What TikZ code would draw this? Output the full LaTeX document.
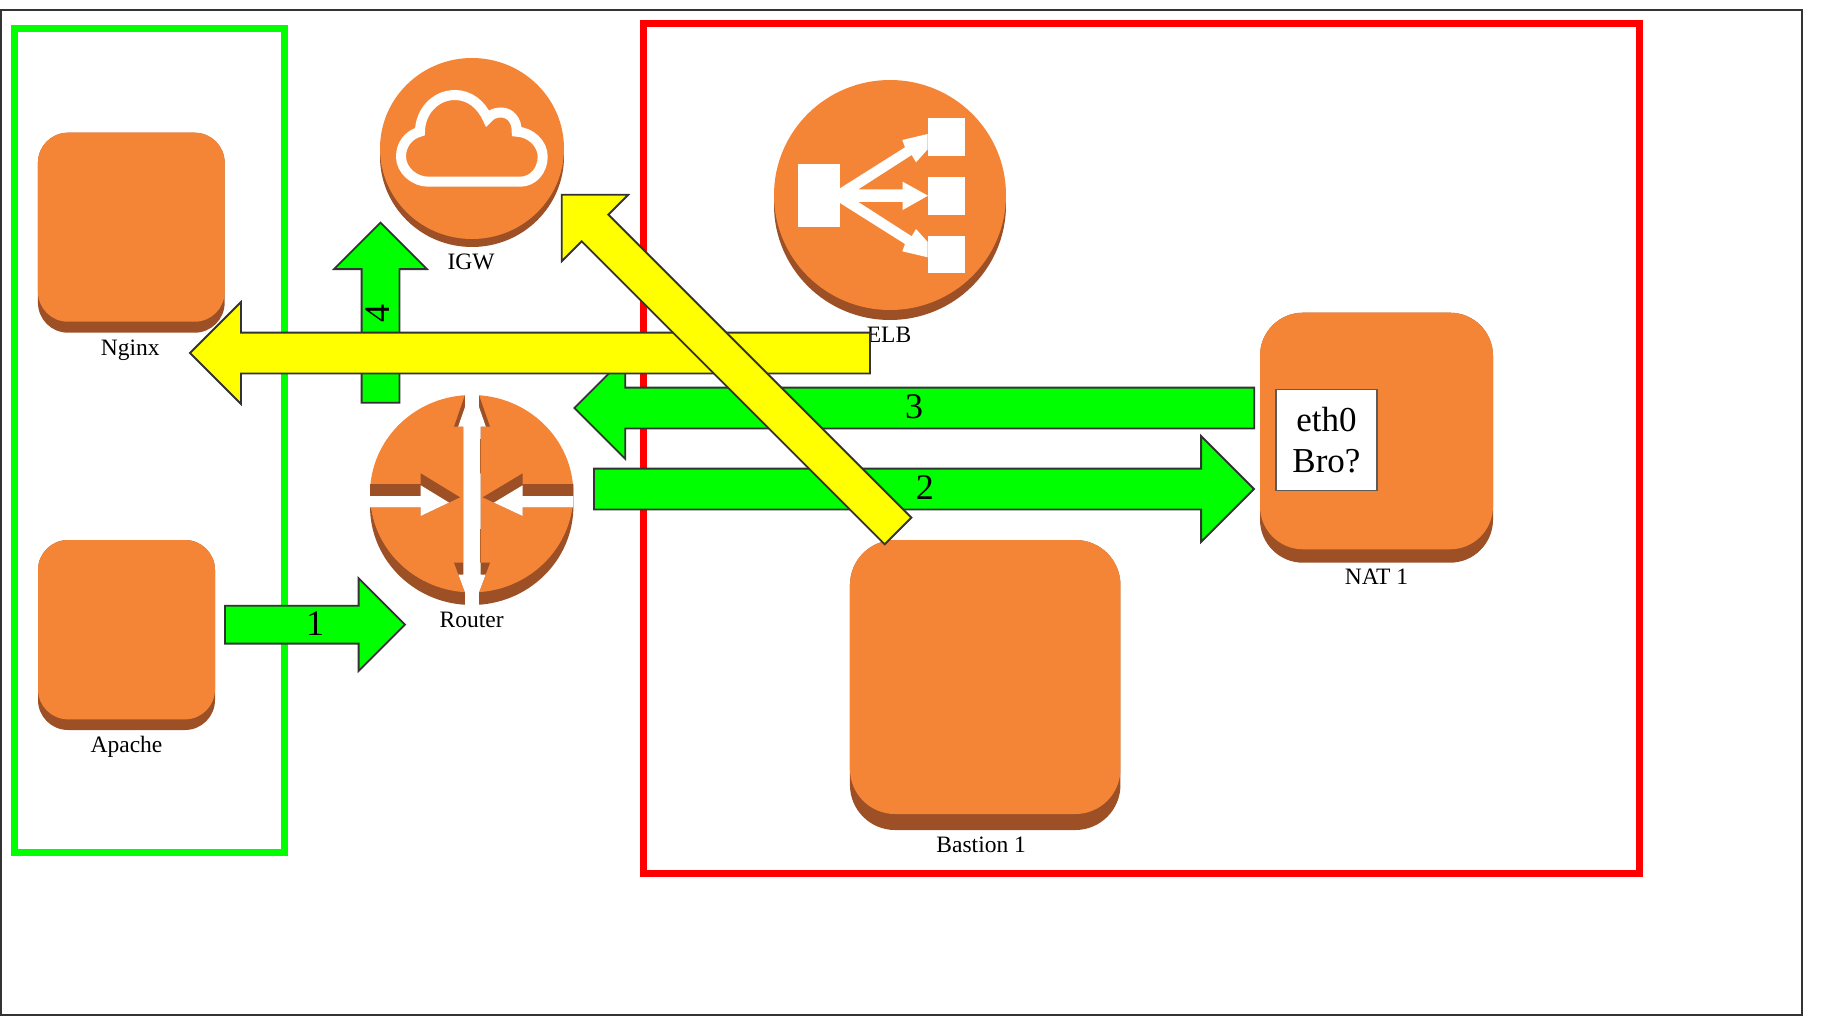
\documentclass[tikz,border=0pt]{standalone}
\usepackage{fontspec}
\setmainfont{Liberation Serif}
\usetikzlibrary{positioning,shapes.geometric,shapes.arrows}
\definecolor{awsorange}{HTML}{F58536}
\definecolor{awsbrown}{HTML}{9D5025}
\definecolor{edgegray}{HTML}{333333}
\definecolor{okgreen}{HTML}{00FF00}
\definecolor{badred}{HTML}{FF0000}
\definecolor{flowyellow}{HTML}{FFFF00}
\newcommand{\routercuts}{
  (465,395) -- (454,426.7) -- (463.3,426.7) -- (463.3,562.7) -- (454,562.7)
  -- (465,592.3) -- (479,592.3) -- (490,562.7) -- (480.7,562.7) -- (480.7,426.7)
  -- (490,426.7) -- (479,395) -- cycle
  (370,484) -- (420.7,484) -- (420.7,473.3) -- (460,497.3) -- (420.7,516)
  -- (420.7,507.3) -- (370,507.3) -- cycle
  (573.3,484) -- (522.7,484) -- (522.7,473.3) -- (482.7,497.3) -- (522.7,516)
  -- (522.7,507.3) -- (573.3,507.3) -- cycle
}

\begin{document}
\begin{tikzpicture}[
          x=1pt,y=-1pt,
          zone/.style={
            draw,
            line width=7pt,
            inner sep=0pt,
            outer sep=0pt,
          },
          awsface/.style={
            fill=awsorange,
            inner sep=0pt,
            outer sep=0pt,
          },
          awsbase/.style={
            awsface,
            fill=awsbrown,
          },
          iconlabel/.style={
            inner sep=0pt,
            outer sep=0pt,
            text height=16pt,
            text depth=5pt,
            font=\fontsize{23.5}{26}\selectfont,
          },
          blockarrow/.style={
            single arrow,
            anchor=tail,
            draw=edgegray,
            line width=1.8pt,
            inner sep=0pt,
            outer sep=0pt,
            single arrow tip angle=90,
            single arrow head indent=0pt,
            font=\fontsize{36}{36}\selectfont,
          },
          thinshaft/.style={
            text height=29pt,
            text depth=7pt,
          },
          wideshaft/.style={
            text height=29.5pt,
            text depth=9.5pt,
          },
        ]
          \useasboundingbox (0,0) rectangle (1821,1035);

          % frames
          \node[draw=edgegray,line width=1.5pt,inner sep=0pt,outer sep=0pt,
            minimum width=1801pt,minimum height=1005pt] (frame) at (901.5,512.5) {};
          \node[zone,draw=okgreen,minimum width=270.4pt,minimum height=824.5pt] (public) at (149.5,440.7) {};
          \node[zone,draw=badred,minimum width=996.5pt,minimum height=850pt] (private) at (1141.7,448.5) {};

          % instances
          \node[awsbase,rounded corners=30pt,minimum width=186.7pt,minimum height=200pt] (nginxbase) at (131.3,232.7) {};
          \node[awsface,rounded corners=30pt,minimum width=186.7pt,minimum height=189pt] (nginx) at (131.3,227.2) {};
          \node[iconlabel,below=6.5pt of nginxbase,xshift=-1pt] (nginxlabel) {Nginx};

          \node[awsbase,rounded corners=30pt,minimum width=177pt,minimum height=190pt] (apachebase) at (126.5,635) {};
          \node[awsface,rounded corners=30pt,minimum width=177pt,minimum height=179.3pt] (apache) at (126.5,629.7) {};
          \node[iconlabel,below=6pt of apachebase] (apachelabel) {Apache};

          \node[awsbase,rounded corners=45pt,minimum width=270.5pt,minimum height=290pt] (bastionbase) at (985.2,685) {};
          \node[awsface,rounded corners=45pt,minimum width=270.5pt,minimum height=274pt] (bastion) at (985.2,677) {};
          \node[iconlabel,below=6pt of bastionbase,xshift=-4pt] (bastionlabel) {Bastion 1};

          \node[awsbase,rounded corners=43pt,minimum width=233pt,minimum height=250pt] (natbase) at (1376.5,437.7) {};
          \node[awsface,rounded corners=43pt,minimum width=233pt,minimum height=236.6pt] (nat) at (1376.5,431) {};
          \node[iconlabel,below=6pt of natbase] (natlabel) {NAT 1};
          \node[draw=edgegray!80,line width=1.7pt,fill=white,inner sep=0pt,outer sep=0pt,
            minimum width=101pt,minimum height=101pt,align=center,
            font=\fontsize{35}{40.5}\selectfont] (eth) at (1326.5,440) {eth0\\Bro?};

          % igw
          \node[awsbase,ellipse,minimum width=184pt,minimum height=181pt] (igwbase) at (472,156.5) {};
          \node[awsface,ellipse,minimum width=184pt,minimum height=181pt] (igw) at (472,148.5) {};
          \node[iconlabel,below=6.5pt of igwbase,xshift=-1pt] (igwlabel) {IGW};
          \draw[white,line width=10pt,line join=miter]
            (428.3,181.7) -- (520,181.7)
            .. controls (533.5,181.7) and (542.7,170) .. (542.7,156.7)
            .. controls (542.7,143) and (530,132) .. (516.7,131.7)
            .. controls (517,120) and (510,112.5) .. (501,112.5)
            .. controls (496,112.5) and (491,114) .. (487.5,118.5)
            .. controls (481,104) and (469,95) .. (455,95)
            .. controls (435,95) and (420,112) .. (420,131.7)
            .. controls (408,135) and (401,145) .. (401,156.7)
            .. controls (401,170) and (414,181.7) .. (428.3,181.7) -- cycle;

          % elb
          \node[awsbase,ellipse,minimum width=232pt,minimum height=230pt] (elbbase) at (890,205) {};
          \node[awsface,ellipse,minimum width=232pt,minimum height=230pt] (elb) at (890,195) {};
          \node[iconlabel,below=6pt of elbbase,xshift=-1pt] (elblabel) {ELB};
          \fill[white] (797.7,164.3) rectangle (840,226.7);
          \foreach \top/\bottom in {118.3/156,177.3/214.7,236/273.3}
            \fill[white] (927.7,\top) rectangle (965.3,\bottom);
          \fill[white] (840,188.3) -- (905,147.3) -- (902.3,140) -- (927.7,134) -- (927.7,149.3) -- (916,162.3)
            -- (911.7,155) -- (858.3,189.3) -- (902.7,189.3) -- (902.7,181.7) -- (928,195.7)
            -- (902.7,210) -- (902.7,202) -- (858.3,202) -- (911.7,236.3) -- (916,229)
            -- (927.7,242) -- (927.7,257.3) -- (902.3,251.3) -- (905,244) -- (840,203) -- cycle;

          % router
          \node[awsbase,ellipse,minimum width=203.4pt,minimum height=197.4pt] (routerbase) at (471.7,506.3) {};
          \node[awsface,ellipse,minimum width=203.4pt,minimum height=197.4pt] (router) at (471.7,493.7) {};
          \node[iconlabel,below=6.5pt of routerbase] (routerlabel) {Router};
          \begin{scope}
            \clip \routercuts;
            \fill[awsbrown] (369,394) rectangle (575,594);
            \fill[white,shift={(0,12)}] \routercuts;
            \fill[white] (465,394) rectangle (479,408);
          \end{scope}
          \fill[white] (465,592) rectangle (479,606);

          % green arrows
          \node[blockarrow,thinshaft,fill=okgreen,minimum height=180pt,single arrow head extend=27.5pt] (step1) at (225,624.7) {\hspace*{19pt}1};
          \node[blockarrow,wideshaft,fill=okgreen,minimum height=660pt,single arrow head extend=32.5pt] (step2) at (594,489) {\hspace*{22pt}2};
          \node[blockarrow,wideshaft,fill=okgreen,minimum height=680pt,single arrow head extend=30.5pt,shape border rotate=180] (step3) at (1254.3,408) {3\hspace*{21pt}};
          \node[blockarrow,fill=okgreen,minimum height=180pt,single arrow head extend=27.5pt,rotate=90,
            text height=27pt,text depth=9pt] (step4) at (380.5,402.7) {\hspace*{17pt}4};

          % yellow arrows
          \node[blockarrow,wideshaft,fill=flowyellow,minimum height=680pt,single arrow head extend=30.5pt,shape border rotate=180] (reply) at (870,353) {};
          \node[blockarrow,thinshaft,fill=flowyellow,minimum height=475.4pt,single arrow head extend=28pt,rotate=135] (bypass) at (898,531) {};
        \end{tikzpicture}
\end{document}
